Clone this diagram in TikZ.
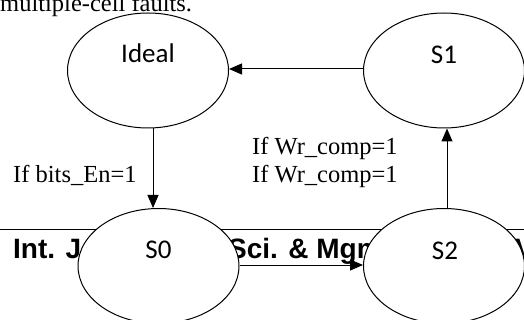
\documentclass[tikz,border=0pt]{standalone}
\usepackage{fontspec}
\setmainfont{Liberation Serif}
\newfontfamily\carlitoF{Carlito}
\newfontfamily\arialF{Liberation Sans}
\usetikzlibrary{shapes.geometric,arrows.meta}
\begin{document}
\begin{tikzpicture}[x=1pt,y=-1pt,
  state/.style={draw,ellipse,fill=white,line width=1pt,minimum width=161pt,minimum height=115pt,inner sep=0pt},
  stxt/.style={anchor=base,inner sep=0pt,font=\carlitoF\fontsize{27}{30}\selectfont},
  cond/.style={anchor=base west,inner sep=0pt,font=\fontsize{24.5}{28}\selectfont},
  hdr/.style={anchor=base west,inner sep=0pt,font=\arialF\bfseries\fontsize{28}{32}\selectfont},
  conn/.style={line width=1pt,-{Triangle[length=13pt,width=11pt]}}]
\useasboundingbox (0,0) rectangle (524,320);
% page artefacts
\node[cond] (top) at (0,12) {multiple-cell faults.};
\coordinate (hl) at (0,230);
\coordinate (hr) at (524,230);
\draw[line width=1pt] (hl) -- (hr);
\node[hdr] (h1) at (13,258) {Int. J.};
\node[hdr] (h2) at (228,258) {Sci. \& Mgmt.};
\node[hdr] (h3) at (515,258) {V};
% states
\node[state] (Ideal) at (148,70.5) {};
\node[state] (S1) at (444,70.5) {};
\node[state] (S0) at (158.5,266) {};
\node[state] (S2) at (444,266) {};
\node[stxt] (tIdeal) at (148,63) {Ideal};
\node[stxt] (tS1) at (444,64) {S1};
\node[stxt] (tS0) at (158.5,258) {S0};
\node[stxt] (tS2) at (445,259) {S2};
% connectors
\coordinate (xA) at (153,0);
\coordinate (xB) at (447,0);
\coordinate (yA) at (0,69);
\coordinate (yB) at (0,265);
\draw[conn] (S1.west |- yA) -- (Ideal.east |- yA);
\draw[conn] (Ideal.south -| xA) -- (S0.north -| xA);
\draw[conn] (S0.east |- yB) -- (S2.west |- yB);
\draw[conn] (S2.north -| xB) -- (S1.south -| xB);
% labels
\node[cond] (l1) at (13,183) {If bits\_En=1};
\node[cond] (l2) at (252,155) {If Wr\_comp=1};
\node[cond] (l3) at (252,183) {If Wr\_comp=1};
\end{tikzpicture}
\end{document}
